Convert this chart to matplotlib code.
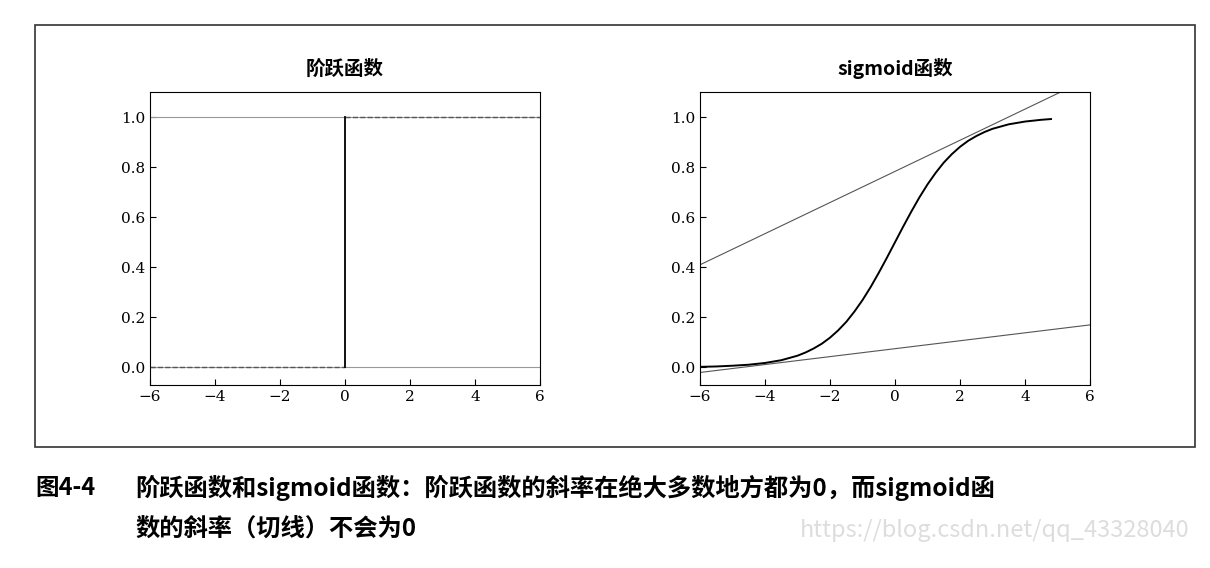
import numpy as np
import matplotlib.pyplot as plt
from matplotlib.patches import Rectangle

plt.rcParams['font.family'] = ['Noto Sans CJK SC', 'DejaVu Sans']

xticks = [-6, -4, -2, 0, 2, 4, 6]
yticks = [0.0, 0.2, 0.4, 0.6, 0.8, 1.0]
titles = ['阶跃函数', 'sigmoid函数']

# step function pieces
step_dash_x = [[-6, 0], [0, 6]]
step_dash_y = [[0, 0], [1, 1]]
step_jump_x = [0, 0]
step_jump_y = [0, 1]

# sigmoid curve (x, y)
sig_x = [-6, -5.5, -5, -4.5, -4, -3.5, -3, -2.75, -2.5, -2.25, -2, -1.75, -1.5, -1.25, -1,
         -0.75, -0.5, -0.25, 0, 0.25, 0.5, 0.75, 1, 1.25, 1.5, 1.75, 2, 2.25, 2.5, 2.75,
         3, 3.5, 4, 4.5, 4.8]
sig_y = [0.0025, 0.004, 0.007, 0.011, 0.018, 0.029, 0.047, 0.06, 0.076, 0.095, 0.119, 0.148,
         0.182, 0.223, 0.269, 0.321, 0.378, 0.438, 0.5, 0.562, 0.622, 0.679, 0.731, 0.777,
         0.818, 0.852, 0.881, 0.905, 0.924, 0.94, 0.953, 0.971, 0.982, 0.989, 0.992]

# tangent lines
tan_hi_x = [-6, 5.1]
tan_hi_y = [0.41, 1.1]
tan_lo_x = [-6, 6]
tan_lo_y = [-0.02, 0.17]

fig = plt.figure(figsize=(12.10, 5.68), dpi=100)
fig.add_artist(Rectangle((35 / 1210, 1 - 447 / 568), 1160 / 1210, 422 / 568,
                         transform=fig.transFigure, fill=False, lw=1.2, ec='#333333'))

ax1 = fig.add_axes([150 / 1210, 1 - 385 / 568, 390 / 1210, 293 / 568])
ax2 = fig.add_axes([700 / 1210, 1 - 385 / 568, 390 / 1210, 293 / 568])

ax1.axhline(0, color='#999999', lw=0.8)
ax1.axhline(1, color='#999999', lw=0.8)
for xs, ys in zip(step_dash_x, step_dash_y):
    ax1.plot(xs, ys, '--', color='#555555', lw=1.0)
ax1.plot(step_jump_x, step_jump_y, color='black', lw=1.3)

ax2.plot(tan_hi_x, tan_hi_y, color='#555555', lw=0.8)
ax2.plot(tan_lo_x, tan_lo_y, color='#555555', lw=0.8)
ax2.plot(sig_x, sig_y, color='black', lw=1.4)

for ax, t in zip([ax1, ax2], titles):
    ax.set_xlim(-6, 6)
    ax.set_ylim(-0.07, 1.1)
    ax.set_xticks(xticks)
    ax.set_yticks(yticks)
    ax.set_xticklabels(['\u2212' + str(-v) if v < 0 else str(v) for v in xticks], family='DejaVu Serif')
    ax.set_yticklabels([f'{v:.1f}' for v in yticks], family='DejaVu Serif')
    ax.tick_params(direction='in', labelsize=11, length=4)
    ax.set_title(t, fontsize=14, fontweight='bold', pad=12)
    for s in ax.spines.values():
        s.set_linewidth(0.8)

fig.text(35 / 1210, 1 - 488 / 568, '图4-4', fontsize=17, fontweight='bold', va='center')
fig.text(135 / 1210, 1 - 488 / 568,
         '阶跃函数和sigmoid函数：阶跃函数的斜率在绝大多数地方都为0，而sigmoid函',
         fontsize=17.5, fontweight='bold', va='center')
fig.text(135 / 1210, 1 - 530 / 568, '数的斜率（切线）不会为0',
         fontsize=17.5, fontweight='bold', va='center')
fig.text(1190 / 1210, 1 - 530 / 568, 'https://blog.csdn.net/qq_43328040',
         fontsize=17, color='#dddddd', ha='right', va='center')

fig.savefig('out.png', dpi=100)
